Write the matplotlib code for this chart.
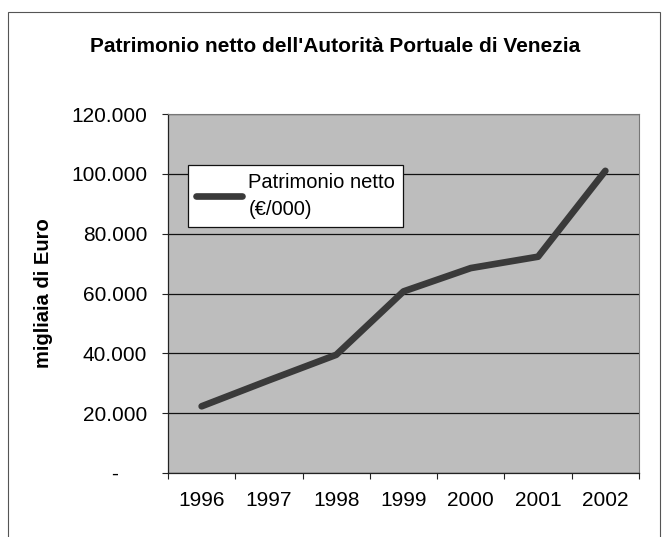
import matplotlib
matplotlib.use("Agg")
import matplotlib.pyplot as plt
from matplotlib.ticker import FixedLocator, FuncFormatter
from matplotlib.patches import Rectangle

years = ["1996", "1997", "1998", "1999", "2000", "2001", "2002"]
patrimonio = [22300, 31000, 39500, 60700, 68500, 72300, 101000]
y_ticks = [0, 20000, 40000, 60000, 80000, 100000, 120000]

plt.rcParams['font.family'] = ['Liberation Sans', 'DejaVu Sans']

W, H = 671, 537
fig = plt.figure(figsize=(W / 100, H / 100), dpi=100)
fig.patch.set_facecolor("white")

# outer chart frame
fig.add_artist(Rectangle((8 / W, -0.01), (660 - 8) / W, 1 - 12 / H + 0.01,
                         transform=fig.transFigure, fill=False,
                         edgecolor="#555555", linewidth=0.8))

ax = fig.add_axes([168 / W, 64 / H, (639 - 168) / W, (473 - 114) / H])
ax.set_facecolor("#bdbdbd")

x = list(range(len(years)))
ax.plot(x, patrimonio, color="#3a3a3a", linewidth=4.8, solid_joinstyle="round",
        solid_capstyle="round", label="Patrimonio netto\n(€/000)", zorder=3)

ax.set_xlim(-0.5, len(years) - 0.5)
ax.set_ylim(0, 120000)
ax.yaxis.set_major_locator(FixedLocator(y_ticks))

def fmt(v, pos):
    if v == 0:
        return "-     "
    return f"{int(v):,}".replace(",", ".")

ax.yaxis.set_major_formatter(FuncFormatter(fmt))
ax.set_xticks(x)
ax.set_xticklabels(years)
ax.set_xticks([i - 0.5 for i in range(len(years) + 1)], minor=True)
ax.tick_params(axis="x", which="major", length=0, pad=13, labelsize=15)
ax.tick_params(axis="x", which="minor", length=4, width=0.8, color="#222222")
ax.tick_params(axis="y", which="major", length=4, width=0.8, pad=11,
               labelsize=15, color="#222222")

ax.grid(axis="y", color="#111111", linewidth=0.9)
ax.set_axisbelow(True)
for s in ["top", "right"]:
    ax.spines[s].set_color("#777777")
    ax.spines[s].set_linewidth(0.8)
for s in ["left", "bottom"]:
    ax.spines[s].set_color("#222222")
    ax.spines[s].set_linewidth(0.9)

ax.set_ylabel("migliaia di Euro", fontsize=14.5, fontweight="bold", labelpad=13)

fig.text(335 / W, 1 - 46 / H, "Patrimonio netto dell'Autorità Portuale di Venezia",
         ha="center", va="center", fontsize=15, fontweight="bold")

leg = ax.legend(loc="upper left", bbox_to_anchor=(188 / W, 1 - 165 / H),
                bbox_transform=fig.transFigure, fontsize=14.5, frameon=True,
                fancybox=False, handlelength=2.3, handletextpad=0.3,
                borderpad=0.4, borderaxespad=0)
for t in leg.get_texts():
    t.set_linespacing(1.5)
leg.get_frame().set_edgecolor("#111111")
leg.get_frame().set_linewidth(0.9)
leg.get_frame().set_facecolor("white")
leg.get_frame().set_alpha(1)

fig.savefig("out.png", dpi=100)
